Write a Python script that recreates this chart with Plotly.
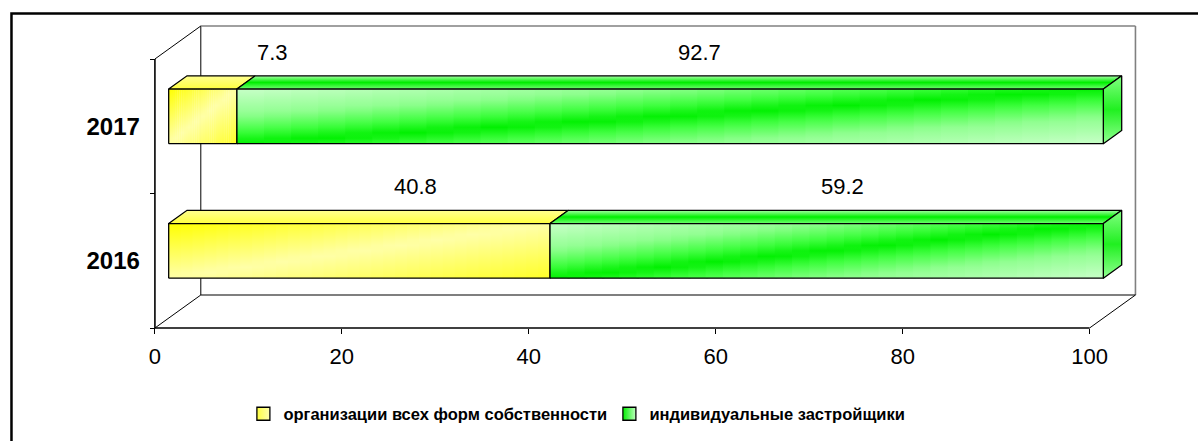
import plotly.graph_objects as go

# ---- data ----
years = ["2016", "2017"]
organizations = [40.8, 7.3]      # организации всех форм собственности
individuals = [59.2, 92.7]       # индивидуальные застройщики
series_names = ["организации всех форм собственности", "индивидуальные застройщики"]
x_ticks = [0, 20, 40, 60, 80, 100]

# ---- geometry (pixel mapping of the reference) ----
W, H = 1198, 441
PX0, PX100 = 152.3, 1089.3          # front x axis pixels for 0 and 100
PY0, PY2 = 328.0, 59.0              # front y axis pixels for 0 and 2
UX = (PX100 - PX0) / 100.0
UY = (PY0 - PY2) / 2.0
DX = 46.0 / UX                       # depth vector in data units
DY = 33.0 / UY
FA, FB = 0.30, 0.70                  # front / back depth fractions of bars
HALF = 0.203                         # half thickness of bar (category units)

XR = [-0.3, 105.2]
YR = [-0.02, 2.27]
xdom = [(PX0 + XR[0] * UX) / W, (PX0 + XR[1] * UX) / W]
ydom = [1 - (PY0 - YR[0] * UY) / H, 1 - (PY0 - YR[1] * UY) / H]

FONT = "Liberation Sans, Arial, sans-serif"

green_top = [[0, "#70ff70"], [0.5, "#00ee00"], [1, "#a8ffa8"]]
green_side = [[0, "#90ff90"], [0.5, "#20f020"], [1, "#80ff80"]]
yellow_top = [[0, "#ffff40"], [1, "#ffff90"]]


def lerp_hex(stops, t):
    t = max(0.0, min(1.0, t))
    for (p0, c0), (p1, c1) in zip(stops[:-1], stops[1:]):
        if t <= p1:
            f = 0 if p1 == p0 else (t - p0) / (p1 - p0)
            a = [int(c0[k:k + 2], 16) for k in (1, 3, 5)]
            b = [int(c1[k:k + 2], 16) for k in (1, 3, 5)]
            return "rgb(%d,%d,%d)" % tuple(round(a[j] + (b[j] - a[j]) * f) for j in range(3))
    return stops[-1][1]


# colour vs distance from the bright diagonal (green), or along the other diagonal (yellow)
GREEN_STOPS = [(0.0, "#00f000"), (0.22, "#40ff40"), (0.52, "#90ff90"), (1.0, "#c8ffc8")]
YELLOW_STOPS = [(0.0, "#ffff00"), (0.5, "#ffffa8"), (1.0, "#ffff28")]

fig = go.Figure()


def poly(xs, ys, scale, gtype):
    fig.add_trace(go.Scatter(
        x=xs + [xs[0]], y=ys + [ys[0]], mode="lines", fill="toself",
        fillgradient=dict(type=gtype, colorscale=scale),
        line=dict(color="black", width=1.3), hoverinfo="skip", showlegend=False))


def outline(xs, ys):
    fig.add_trace(go.Scatter(
        x=xs + [xs[0]], y=ys + [ys[0]], mode="lines",
        line=dict(color="black", width=1.3), hoverinfo="skip", showlegend=False))


def diag_face(x0, x1, y0, y1, kind, n=32):
    """front face filled with a diagonal gradient built from vertical slices"""
    eps = (x1 - x0) / n * 0.15
    for k in range(n):
        ua, ub = k / n, (k + 1) / n
        u = (ua + ub) / 2
        scale = []
        for j in range(11):
            v = j / 10  # 0 bottom .. 1 top
            if kind == "ind":
                col = lerp_hex(GREEN_STOPS, abs(u - v))
            else:
                col = lerp_hex(YELLOW_STOPS, (u + 1 - v) / 2)
            scale.append([v, col])
        xa = x0 + (x1 - x0) * ua
        xb = x0 + (x1 - x0) * ub + (eps if k < n - 1 else 0)
        fig.add_trace(go.Scatter(
            x=[xa, xb, xb, xa, xa], y=[y0, y0, y1, y1, y0], mode="lines", fill="toself",
            fillgradient=dict(type="vertical", colorscale=scale, start=y0, stop=y1),
            line=dict(width=0), hoverinfo="skip", showlegend=False))
    outline([x0, x1, x1, x0], [y0, y0, y1, y1])


annotations = []
for i, yr in enumerate(years):
    c = i + 0.5
    segs = [(0.0, organizations[i], "org"), (organizations[i], organizations[i] + individuals[i], "ind")]
    lo, hi = c - HALF, c + HALF
    # top faces
    for x0, x1, kind in segs:
        xs = [x0 + FA * DX, x1 + FA * DX, x1 + FB * DX, x0 + FB * DX]
        ys = [hi + FA * DY, hi + FA * DY, hi + FB * DY, hi + FB * DY]
        poly(xs, ys, yellow_top if kind == "org" else green_top, "vertical")
    # right side face
    xe = segs[-1][1]
    xs = [xe + FA * DX, xe + FB * DX, xe + FB * DX, xe + FA * DX]
    ys = [lo + FA * DY, lo + FB * DY, hi + FB * DY, hi + FA * DY]
    poly(xs, ys, green_side, "vertical")
    # front faces
    for x0, x1, kind in segs:
        diag_face(x0 + FA * DX, x1 + FA * DX, lo + FA * DY, hi + FA * DY, kind)
    # data labels
    for x0, x1, kind in segs:
        centre = (x0 + x1) / 2
        annotations.append(dict(
            x=9.2 + 0.914 * centre, y=c + 0.55, xref="x", yref="y",
            text=f"{x1 - x0:.1f}", showarrow=False,
            font=dict(family=FONT, size=22, color="black")))

# legend entries
fig.add_trace(go.Scatter(
    x=[None], y=[None], mode="markers", name=series_names[0],
    marker=dict(symbol="square", size=13, color="#ffff40",
                gradient=dict(type="horizontal", color="#ffffb0"),
                line=dict(color="black", width=1.3))))
fig.add_trace(go.Scatter(
    x=[None], y=[None], mode="markers", name=series_names[1],
    marker=dict(symbol="square", size=13, color="#00f000",
                gradient=dict(type="horizontal", color="#c0ffc0"),
                line=dict(color="black", width=1.3))))

# helper axis for tick marks on y
fig.add_trace(go.Scatter(x=[None], y=[None], yaxis="y2", showlegend=False, hoverinfo="skip"))

shapes = []


def seg(x0, y0, x1, y1, color="black", width=1.0):
    shapes.append(dict(type="line", xref="x", yref="y", x0=x0, y0=y0, x1=x1, y1=y1,
                       line=dict(color=color, width=width), layer="below"))


# walls
seg(DX, DY, DX, 2 + DY, "black", 1.0)
seg(DX, 2 + DY, 100 + DX, 2 + DY, "#808080", 1.6)
seg(100 + DX, DY, 100 + DX, 2 + DY, "#808080", 1.6)
seg(DX, DY, 100 + DX, DY, "black", 1.2)
seg(0, 0, DX, DY, "black", 1.0)
seg(100, 0, 100 + DX, DY, "black", 1.0)
seg(0, 2, DX, 2 + DY, "black", 1.0)
# front axes
seg(0, 0, 100, 0, "black", 1.6)
seg(0, 0, 0, 2, "black", 1.6)

# outer frame
shapes.append(dict(type="rect", xref="paper", yref="paper",
                   x0=8.5 / W, y0=-0.2, x1=1.2, y1=1 - 13.5 / H,
                   line=dict(color="black", width=2.5), layer="above"))

fig.update_layout(
    width=W, height=H, margin=dict(l=0, r=0, t=0, b=0),
    paper_bgcolor="white", plot_bgcolor="white",
    font=dict(family=FONT, color="black"),
    shapes=shapes, annotations=annotations,
    xaxis=dict(range=XR, domain=xdom, anchor="free", position=1 - PY0 / H,
               tickvals=x_ticks, ticktext=[str(v) for v in x_ticks],
               ticks="outside", ticklen=5, tickwidth=1.3, tickcolor="black",
               ticklabelstandoff=4,
               showline=False, showgrid=False, zeroline=False,
               tickfont=dict(family=FONT, size=22, color="black")),
    yaxis=dict(range=YR, domain=ydom, anchor="free", position=PX0 / W,
               tickvals=[0.5, 1.5], ticktext=years, ticks="",
               ticklabelstandoff=15,
               showline=False, showgrid=False, zeroline=False,
               tickfont=dict(family=FONT, size=24, color="black", weight="bold")),
    yaxis2=dict(range=YR, overlaying="y", anchor="free", position=PX0 / W,
                tickvals=[0, 1, 2], ticks="outside", ticklen=5, tickwidth=1.3,
                tickcolor="black", showticklabels=False, showgrid=False,
                zeroline=False, showline=False),
    legend=dict(orientation="h", x=241 / W, xanchor="left", y=1 - 414 / H, yanchor="middle",
                font=dict(family=FONT, size=16.5, color="black", weight="bold"),
                itemwidth=30, entrywidth=321, entrywidthmode="pixels",
                tracegroupgap=0, bgcolor="rgba(0,0,0,0)"),
    showlegend=True,
)

fig.write_html("out.html", config={"displayModeBar": False},
               post_script="document.body.style.margin='0';document.body.style.padding='0';")
